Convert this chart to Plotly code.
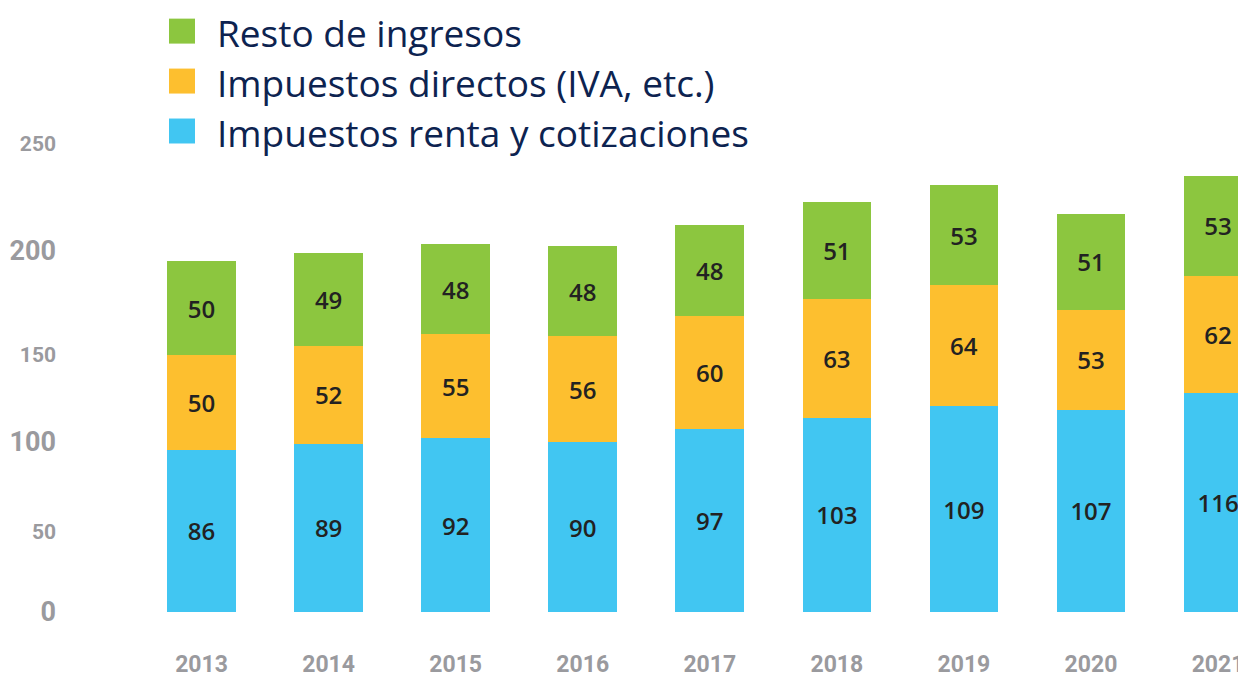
import plotly.graph_objects as go

years = ["2013", "2014", "2015", "2016", "2017", "2018", "2019", "2020", "2021"]
renta = [86, 89, 92, 90, 97, 103, 109, 107, 116]
directos = [50, 52, 55, 56, 60, 63, 64, 53, 62]
resto = [50, 49, 48, 48, 48, 51, 53, 51, 53]

series_names = ["Impuestos renta y cotizaciones", "Impuestos directos (IVA, etc.)", "Resto de ingresos"]
colors = ["#41C6F2", "#FDBF2F", "#8CC63F"]

y_tick_labels = ["0", "50", "100", "150", "200", "250"]
y_tick_pos = [0, 43.5, 90, 137.5, 191.5, 249]
y_tick_sizes = [27, 21, 27, 21, 27, 21]

# page geometry (the page body adds an 8px offset)
OFF = 8
W, H = 1246 - OFF, 678 - OFF
ML, MT, MB = 130, 131.5, 66
PLOT_W = W - ML
PLOT_H = H - MT - MB


def px_x(px):
    return (px - OFF - ML) / PLOT_W


def px_y(py):
    return (H - MB + OFF - py) / PLOT_H


fig = go.Figure()
for name, vals, col in zip(series_names, [renta, directos, resto], colors):
    fig.add_trace(go.Bar(
        x=years, y=vals, name=name, marker=dict(color=col, line=dict(width=0)),
        text=[str(v) for v in vals], textposition="inside", insidetextanchor="middle",
        textangle=0, constraintext="none",
        insidetextfont=dict(family="Open Sans", size=24, color="#222222", weight=600),
        showlegend=False, hoverinfo="skip",
    ))

# legend drawn as swatches + labels (top to bottom: reversed stacking order)
shapes, annotations = [], []
for i, (name, col) in enumerate(reversed(list(zip(series_names, colors)))):
    cy = 30.5 + 50 * i
    shapes.append(dict(type="rect", xref="paper", yref="paper",
                       x0=px_x(169), x1=px_x(195), y0=px_y(cy + 12.5), y1=px_y(cy - 12.5),
                       fillcolor=col, line=dict(width=0)))
    annotations.append(dict(xref="paper", yref="paper", x=px_x(216), y=px_y(cy + 1.5),
                            xanchor="left", yanchor="middle", showarrow=False, text=name,
                            borderpad=0,
                            font=dict(family="Open Sans", size=37, color="#0D2350")))

ticktext = [f'<span style="font-size:{s}px">{t}</span>' for t, s in zip(y_tick_labels, y_tick_sizes)]

fig.update_layout(
    width=W, height=H,
    margin=dict(l=ML, r=0, t=MT, b=MB, autoexpand=False),
    barmode="stack", bargap=0.46,
    plot_bgcolor="white", paper_bgcolor="white",
    font=dict(family="Open Sans"),
    showlegend=False,
    shapes=shapes, annotations=annotations,
    xaxis=dict(
        type="category", range=[-0.5, 8.22], showgrid=False, zeroline=False, showline=False,
        ticks="", ticklabelstandoff=36, automargin=False,
        tickfont=dict(family="Roboto", size=23, color="#9A9A9E", weight="bold"),
    ),
    yaxis=dict(
        range=[0, 250], showgrid=False, zeroline=False, showline=False, ticks="",
        tickvals=y_tick_pos, ticktext=ticktext, ticklabelstandoff=81, automargin=False,
        tickfont=dict(family="Roboto", size=26, color="#9A9A9E", weight="bold"),
    ),
)

fig.write_html("out.html")
